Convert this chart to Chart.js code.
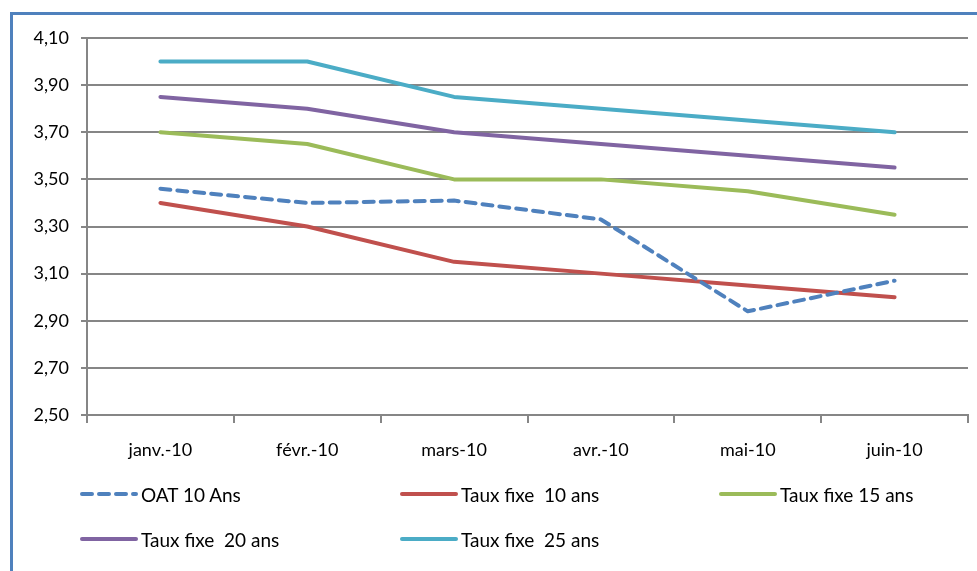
<!DOCTYPE html>
<html lang="fr">
<head>
<meta charset="utf-8">
<script src="https://cdn.jsdelivr.net/npm/chart.js@4.4.1/dist/chart.umd.min.js"></script>
<style>
  html, body { margin: 0; padding: 0; background: #fff; }
  #wrap { position: relative; width: 977px; height: 571px; overflow: hidden; }
  #frame { position: absolute; left: 10px; top: 12px; width: 1100px; height: 700px;
           border-left: 3px solid #4F81BD; border-top: 3px solid #4F81BD; box-sizing: border-box; }
  canvas { position: absolute; left: 0; top: 0; }
  #legend { position: absolute; left: 0; top: 0; width: 977px; height: 571px; pointer-events: none;
            font-family: Lato, "Open Sans", sans-serif; font-size: 19px; color: #000; }
  .item { position: absolute; display: flex; align-items: center; white-space: pre; }
  .item svg { margin-right: 3px; }
</style>
</head>
<body>
<div id="wrap">
  <div id="frame"></div>
  <canvas id="c" width="977" height="571"></canvas>
  <div id="legend"></div>
</div>
<script>
const months = ["janv.-10", "févr.-10", "mars-10", "avr.-10", "mai-10", "juin-10"];
const oat10 = [3.46, 3.40, 3.41, 3.33, 2.94, 3.07];
const fixe10 = [3.40, 3.30, 3.15, 3.10, 3.05, 3.00];
const fixe15 = [3.70, 3.65, 3.50, 3.50, 3.45, 3.35];
const fixe20 = [3.85, 3.80, 3.70, 3.65, 3.60, 3.55];
const fixe25 = [4.00, 4.00, 3.85, 3.80, 3.75, 3.70];
const yMin = 2.5, yMax = 4.1, yStep = 0.2;

function series(label, data, color, dash) {
  return {
    label, data,
    borderColor: color, backgroundColor: color,
    borderWidth: 4, borderDash: dash || [], borderCapStyle: 'round', borderJoinStyle: 'round',
    pointRadius: 0, pointHoverRadius: 0, tension: 0, fill: false
  };
}

const datasets = [
  series("OAT 10 Ans", oat10, "#4F81BD", [10, 7]),
  series("Taux fixe  10 ans", fixe10, "#C0504D"),
  series("Taux fixe 15 ans", fixe15, "#9BBB59"),
  series("Taux fixe  20 ans", fixe20, "#8064A2"),
  series("Taux fixe  25 ans", fixe25, "#4BACC6")
];

const fontFam = 'Lato, "Open Sans", sans-serif';

const chart = new Chart(document.getElementById('c'), {
  type: 'line',
  data: { labels: months, datasets },
  options: {
    responsive: false,
    animation: false,
    layout: { padding: { left: 0, right: 9, top: 38, bottom: 110 } },
    plugins: { legend: { display: false }, tooltip: { enabled: false } },
    scales: {
      x: {
        offset: true,
        grid: { display: true, drawOnChartArea: false, drawTicks: true, tickLength: 8,
                offset: true, color: '#868686', lineWidth: 2 },
        border: { display: true, color: '#868686', width: 2 },
        ticks: { color: '#000', font: { family: fontFam, size: 18 }, padding: 16, maxRotation: 0 },
        afterFit: s => { s.height = 46; }
      },
      y: {
        min: yMin, max: yMax,
        grid: { color: '#868686', lineWidth: 2, tickLength: 6 },
        border: { display: true, color: '#868686', width: 2 },
        ticks: {
          stepSize: yStep, color: '#000', font: { family: fontFam, size: 18 }, padding: 12,
          callback: v => Number(v).toFixed(2).replace('.', ',')
        },
        afterFit: s => { s.width = 87; }
      }
    }
  }
});

// Legend laid out in a three-column grid under the plot
const legendPos = [[80, 494], [400, 494], [719, 494], [80, 539], [400, 539]];
const legend = document.getElementById('legend');
chart.data.datasets.forEach((ds, i) => {
  const [x, y] = legendPos[i];
  const item = document.createElement('div');
  item.className = 'item';
  item.style.left = x + 'px';
  item.style.top = (y - 12) + 'px';
  item.style.height = '24px';
  const dash = ds.borderDash.length ? `stroke-dasharray="${ds.borderDash.join(' ')}"` : '';
  item.innerHTML = `<svg width="58" height="10"><line x1="2" y1="5" x2="56" y2="5" stroke="${ds.borderColor}"
    stroke-width="4" stroke-linecap="round" ${dash}/></svg><span>${ds.label}</span>`;
  legend.appendChild(item);
});
</script>
</body>
</html>
